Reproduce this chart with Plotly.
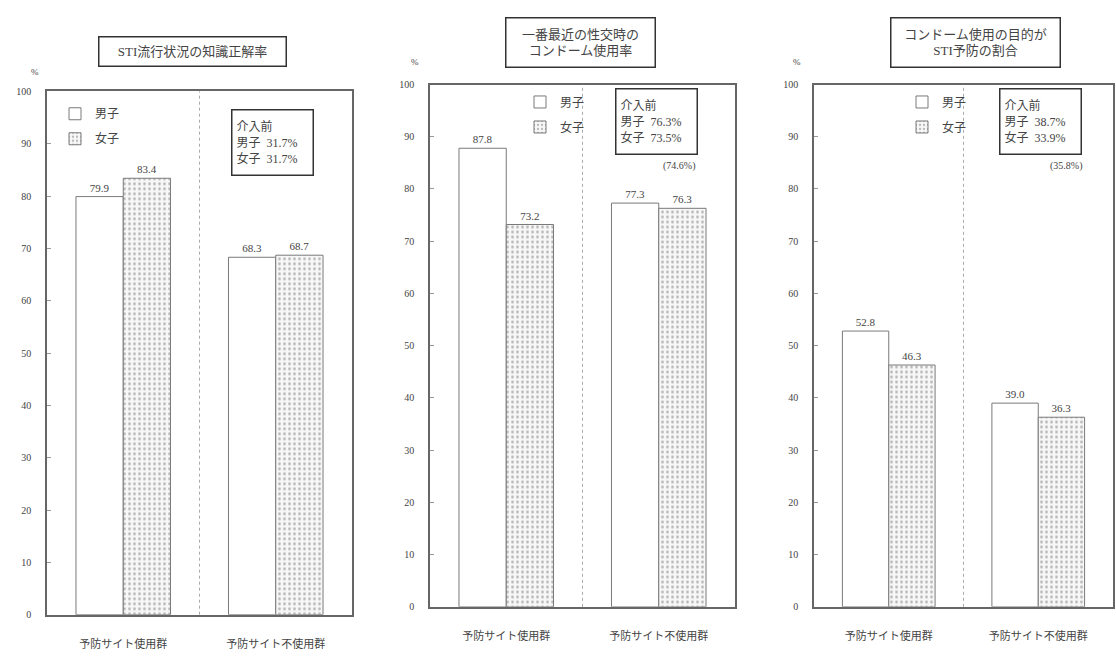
import plotly.graph_objects as go

# Groups on the x axis
groups = ["予防サイト使用群", "予防サイト不使用群"]

# Panel 1: STI流行状況の知識正解率
knowledge_male = [79.9, 68.3]
knowledge_female = [83.4, 68.7]

# Panel 2: 一番最近の性交時のコンドーム使用率
condom_male = [87.8, 77.3]
condom_female = [73.2, 76.3]

# Panel 3: コンドーム使用の目的がSTI予防の割合
purpose_male = [52.8, 39.0]
purpose_female = [46.3, 36.3]

titles = ["STI流行状況の知識正解率",
          "一番最近の性交時の<br>コンドーム使用率",
          "コンドーム使用の目的が<br>STI予防の割合"]
baseline_text = ["介入前<br>男子  31.7%<br>女子  31.7%",
                 "介入前<br>男子  76.3%<br>女子  73.5%",
                 "介入前<br>男子  38.7%<br>女子  33.9%"]
baseline_total = [None, "(74.6%)", "(35.8%)"]

W, H = 1116, 657
FONT = "Liberation Serif, Noto Sans CJK JP, serif"
INK = "#444444"

def px(x):
    return x / W

def py(y):
    return 1 - y / H

# plot areas in pixels: (left, right, top, bottom)
areas = [(47, 352, 87, 620), (430, 735, 80, 612), (814, 1113, 80, 612)]
title_pos = [(192, 46), (581, 37), (975, 37)]
title_size = [(178, 20), (140, 40), (160, 40)]
legend_pos = [(55, 95), (520, 83), (902, 83)]
info_pos = [(272, 139), (656, 118), (1040, 118)]
total_pos = [None, (698, 163), (1085, 163)]
pct_pos = [(35, 67), (415, 57), (797, 57)]

series = [(knowledge_male, knowledge_female),
          (condom_male, condom_female),
          (purpose_male, purpose_female)]

fig = go.Figure()
layout = dict(width=W, height=H, margin=dict(l=0, r=0, t=0, b=0),
              paper_bgcolor="white", plot_bgcolor="white",
              barmode="group", bargap=0.38, bargroupgap=0,
              font=dict(family=FONT, color=INK, size=11),
              annotations=[], shapes=[])

for i, (male, female) in enumerate(series):
    n = "" if i == 0 else str(i + 1)
    xa, ya = "x" + n, "y" + n
    leg = "legend" + n
    fig.add_trace(go.Bar(
        x=groups, y=male, name="男子", xaxis=xa, yaxis=ya, legend=leg,
        marker=dict(color="white", line=dict(color="#7a7a7a", width=1)),
        texttemplate="%{y:.1f}", textposition="outside", cliponaxis=False,
        textfont=dict(family=FONT, size=11, color=INK), legendgroup="m" + n))
    fig.add_trace(go.Bar(
        x=groups, y=female, name="女子", xaxis=xa, yaxis=ya, legend=leg,
        marker=dict(color="white", line=dict(color="#7a7a7a", width=1),
                    pattern=dict(shape=".", fgcolor="#7a7a7a", bgcolor="#f7f7f7",
                                 size=5, solidity=0.25)),
        texttemplate="%{y:.1f}", textposition="outside", cliponaxis=False,
        textfont=dict(family=FONT, size=11, color=INK), legendgroup="f" + n))

    l, r, t, b = areas[i]
    layout["xaxis" + n] = dict(
        domain=[px(l), px(r)], anchor=ya, range=[-0.5, 1.5],
        showline=True, linecolor="#666666", linewidth=1.5, mirror=True,
        ticks="", ticklabelstandoff=18, showgrid=False, fixedrange=True,
        tickfont=dict(family=FONT, size=11, color=INK))
    layout["yaxis" + n] = dict(
        domain=[py(b), py(t)], anchor=xa, range=[0, 100], dtick=10,
        showline=True, linecolor="#666666", linewidth=1.5, mirror=True,
        ticks="inside", ticklen=4, tickcolor="#999999",
        ticklabelstandoff=12, showgrid=False, zeroline=False,
        tickfont=dict(family=FONT, size=10, color=INK))

    lx, ly = legend_pos[i]
    layout[leg] = dict(x=px(lx), y=py(ly), xanchor="left", yanchor="top",
                       bgcolor="rgba(0,0,0,0)", tracegroupgap=6,
                       font=dict(family=FONT, size=12, color=INK))

    # dashed divider between the two groups
    layout["shapes"].append(dict(
        type="line", xref=xa, yref=ya + " domain", x0=0.5, x1=0.5, y0=0, y1=1,
        line=dict(color="#aaaaaa", width=1, dash="dot")))

    tx, ty = title_pos[i]
    tw, th = title_size[i]
    layout["annotations"].append(dict(
        text=titles[i], xref="paper", yref="paper", x=px(tx), y=py(ty),
        showarrow=False, xanchor="center", yanchor="middle",
        width=tw, height=th,
        font=dict(family=FONT, size=13, color=INK),
        bordercolor="#333333", borderwidth=1.5, borderpad=4, bgcolor="white"))

    ix, iy = info_pos[i]
    layout["annotations"].append(dict(
        text=baseline_text[i], xref="paper", yref="paper", x=px(ix), y=py(iy),
        showarrow=False, xanchor="center", yanchor="middle", align="left",
        width=72, height=56, valign="middle",
        font=dict(family=FONT, size=12, color=INK),
        bordercolor="#333333", borderwidth=1.5, borderpad=4, bgcolor="white"))

    if baseline_total[i]:
        ux, uy = total_pos[i]
        layout["annotations"].append(dict(
            text=baseline_total[i], xref="paper", yref="paper", x=px(ux), y=py(uy),
            showarrow=False, xanchor="right", yanchor="middle",
            font=dict(family=FONT, size=10, color=INK)))

    cx, cy = pct_pos[i]
    layout["annotations"].append(dict(
        text="%", xref="paper", yref="paper", x=px(cx), y=py(cy),
        showarrow=False, xanchor="center", yanchor="middle",
        font=dict(family=FONT, size=9, color=INK)))

fig.update_layout(**layout)
fig.write_html("out.html")
